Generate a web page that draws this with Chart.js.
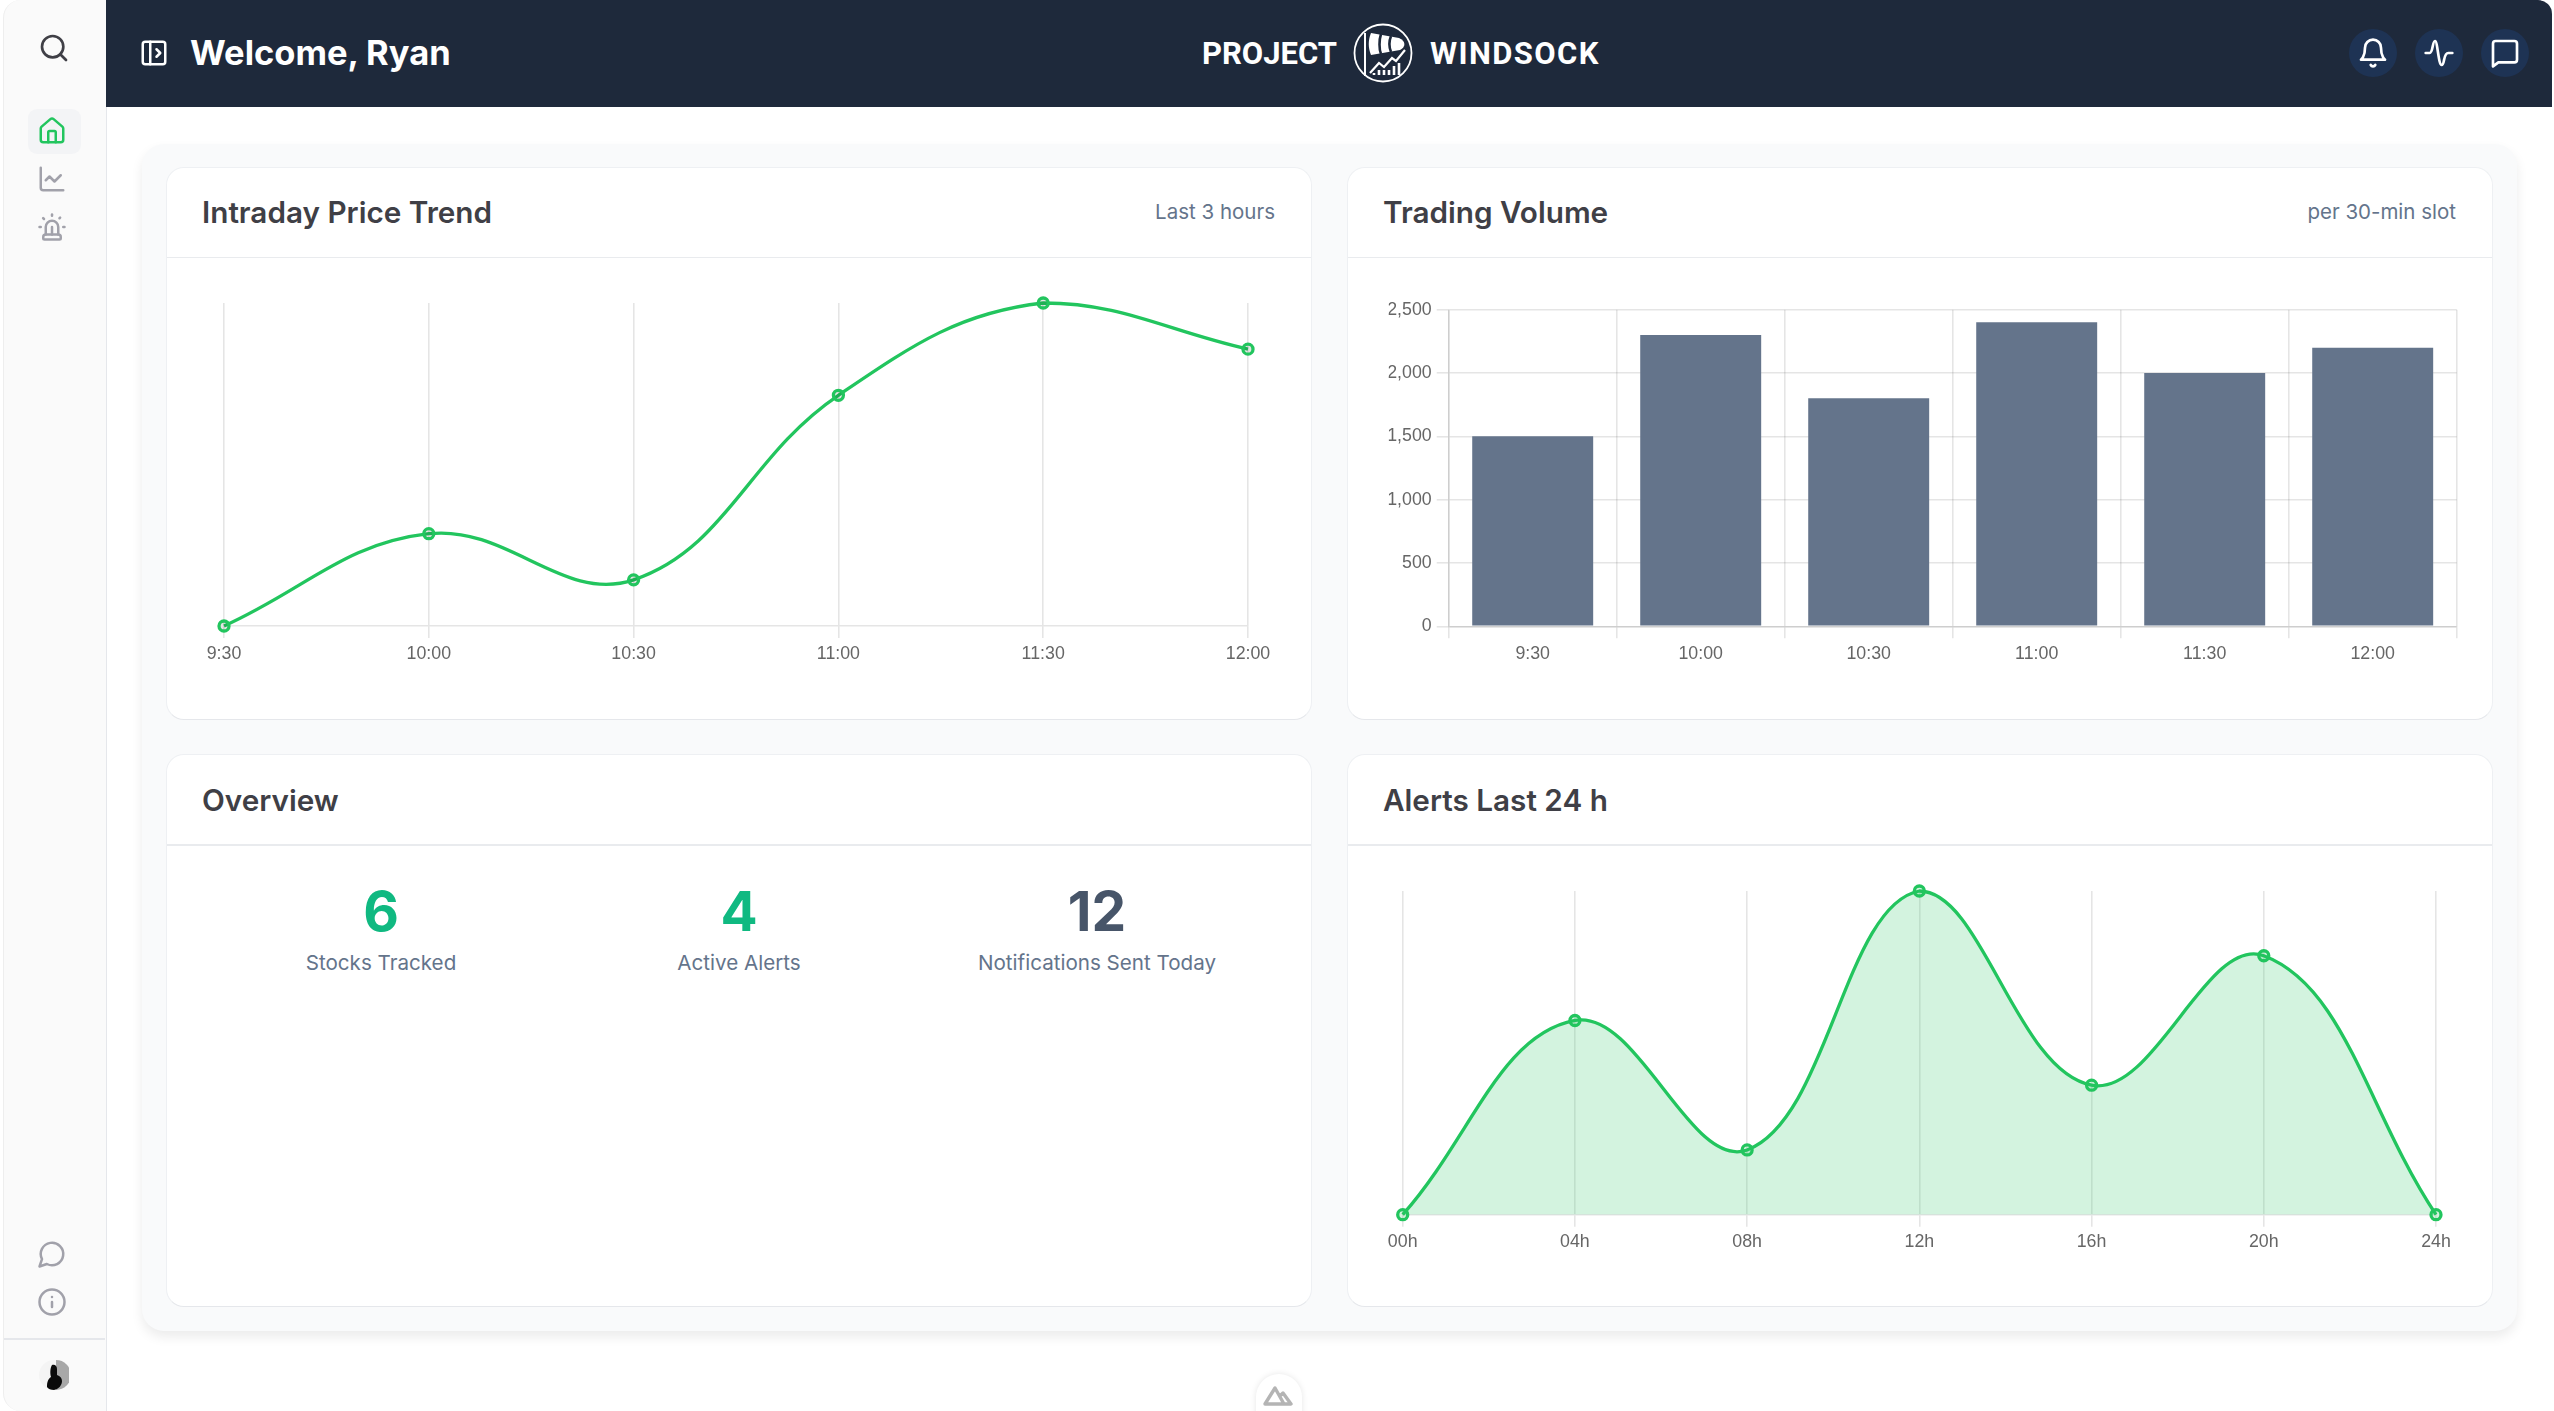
<!DOCTYPE html>
<html>
<head>
<meta charset="utf-8">
<title>Project Windsock</title>
<script src="https://cdn.jsdelivr.net/npm/chart.js@4"></script>
<style>
  html, body { margin: 0; padding: 0; background: #fff; }
  body { width: 2554px; height: 1411px; position: relative; overflow: hidden; font-family: Inter, sans-serif; }
  .abs, .card, .title, .note, canvas, .num, .lbl, svg { position: absolute; }
  #sidebar { left: 3px; top: 0; width: 102px; height: 1411px; background: #fafafa; border-right: 1.5px solid #e5e7eb; border-left: 1.5px solid #eeeeee; border-radius: 18px 0 0 18px; box-sizing: content-box; }
  #header { left: 106px; top: 0; width: 2446px; height: 107px; background: #1e293b; border-top-right-radius: 14px; }
  #panel { left: 142px; top: 144px; width: 2375px; height: 1187px; background: #f9fafb; border-radius: 22px; box-shadow: 0 6px 12px rgba(0,0,0,.08); }
  .card { width: 1146.500px; height: 553px; background: #fff; border: 1.5px solid #eef0f3; border-bottom-color: #e5e7eb; border-radius: 18px; box-sizing: border-box; }
  .rule { position: absolute; left: 0; right: 0; top: 89px; height: 1.5px; background: #e9ebee; }
  .title { font-size: 29.700px; font-weight: 600; color: #3f3f46; line-height: 36px; white-space: nowrap; }
  .note { font-size: 20.500px; color: #64748b; line-height: 26px; white-space: nowrap; text-align: right; }
  .num { font-size: 55px; font-weight: 700; line-height: 60px; width: 200px; text-align: center; }
  .lbl { font-size: 20.600px; color: #64748b; line-height: 26px; width: 320px; text-align: center; white-space: nowrap; }
  .ico { fill: none; stroke-width: 2; stroke-linecap: round; stroke-linejoin: round; }
  .dot { position: absolute; width: 48px; height: 48px; top: 29px; border-radius: 50%; background: #1e3354; }
  .brand { position: absolute; color: #fff; font-family: Roboto, sans-serif; font-weight: 700; font-size: 31px; line-height: 40px; top: 33.500px; white-space: nowrap; }
</style>
</head>
<body>

<div class="abs" id="sidebar"></div>
<div class="abs" style="left:28px;top:109px;width:53px;height:45px;background:#f3f4f6;border-radius:9px"></div>
<svg class="ico" style="left:38px;top:32px" width="32" height="32" viewBox="0 0 24 24" stroke="#3f3f46"><circle cx="11" cy="11" r="8"/><path d="m21 21-4.300-4.300"/></svg>
<svg class="ico" style="left:37px;top:116px" width="30" height="30" viewBox="0 0 24 24" stroke="#22c55e"><path d="M15 21v-8a1 1 0 0 0-1-1h-4a1 1 0 0 0-1 1v8"/><path d="M3 10a2 2 0 0 1 .7-1.500l7-6a2 2 0 0 1 2.600 0l7 6A2 2 0 0 1 21 10v9a2 2 0 0 1-2 2H5a2 2 0 0 1-2-2z"/></svg>
<svg class="ico" style="left:37px;top:164px" width="30" height="30" viewBox="0 0 24 24" stroke="#a1a1aa"><path d="M3 3v16a2 2 0 0 0 2 2h16"/><path d="m19 9-5 5-4-4-3 3"/></svg>
<svg class="ico" style="left:37px;top:211.500px" width="30" height="30" viewBox="0 0 24 24" stroke="#a1a1aa"><path d="M7 18v-6a5 5 0 1 1 10 0v6"/><path d="M5 21a1 1 0 0 0 1 1h12a1 1 0 0 0 1-1v-1a2 2 0 0 0-2-2H7a2 2 0 0 0-2 2z"/><path d="M21 12h1"/><path d="M18.500 4.500 18 5"/><path d="M2 12h1"/><path d="M12 2v1"/><path d="m4.900 4.900.7.7"/><path d="M12 12v6"/></svg>
<svg class="ico" style="left:37px;top:1239px" width="30" height="30" viewBox="0 0 24 24" stroke="#a1a1aa"><path d="M7.900 20A9 9 0 1 0 4 16.100L2 22Z"/></svg>
<svg class="ico" style="left:37px;top:1287px" width="30" height="30" viewBox="0 0 24 24" stroke="#a1a1aa"><circle cx="12" cy="12" r="10"/><path d="M12 16v-4"/><path d="M12 8h.01"/></svg>
<div class="abs" style="left:4px;top:1338px;width:101px;height:1.5px;background:#e5e7eb"></div>
<svg style="left:39px;top:1360px" width="30" height="30" viewBox="0 0 30 30"><circle cx="15" cy="15" r="15" fill="#f4f4f4"/><path d="M17 0a15 15 0 0 1 0 30z" fill="#a8a8a8"/><path d="M13 5c3-1 5 1 5 4v6c3 1 5 3 5 6 0 4-3 8-8 9-3 0-6-1-7-3 0-5 1-8 4-10-1-3-1-9 1-12z" fill="#0a0a0a"/></svg>

<div class="abs" id="header">
  <svg class="ico" style="left:33px;top:38px" width="30" height="30" viewBox="0 0 24 24" stroke="#fff"><rect x="3" y="3" width="18" height="18" rx="2"/><path d="M9 3v18"/><path d="m14 9 3 3-3 3"/></svg>
  <div style="position:absolute;left:84px;top:31px;color:#fff;font-size:34.500px;font-weight:700;line-height:44px;white-space:nowrap">Welcome, Ryan</div>
  <div class="brand" style="left:1096px">PROJECT</div>
  <svg style="left:1247px;top:23px" width="60" height="60" viewBox="0 0 60 60" fill="none" stroke="#fff" stroke-width="1.800"><circle cx="30" cy="30" r="28.500"/><path d="M12 10v43" stroke-width="2"/><path d="M18 10l28 5c7 3 7 9 1 12l-29 5c-3-7-3-15 0-22z" fill="#fff" stroke="none"/><path d="M28 11c-2 6-2 15 0 20M38 13c-2 5-2 11 0 16" stroke="#1e293b" stroke-width="2.600"/><path d="M17 50l9-10 5 4 8-9 4 3 9-11" stroke-width="2.200"/><path d="M21 52v-2M26 52v-5M31 52v-5M36 52v-5M41 52v-9M46 52v-12" stroke-width="2.600"/></svg>
  <div class="brand" style="left:1324px;letter-spacing:1.400px">WINDSOCK</div>
  <div class="dot" style="left:2243px"></div>
  <div class="dot" style="left:2309px"></div>
  <div class="dot" style="left:2375px"></div>
  <svg class="ico" style="left:2251px;top:37px" width="32" height="32" viewBox="0 0 24 24" stroke="#fff"><path d="M6 8a6 6 0 0 1 12 0c0 7 3 9 3 9H3s3-2 3-9"/><path d="M10.300 21a1.940 1.940 0 0 0 3.400 0"/></svg>
  <svg class="ico" style="left:2317px;top:37px" width="32" height="32" viewBox="0 0 24 24" stroke="#fff"><path d="M2 12h3c2.500 0 2-9 4-9s2.500 18 5 18 1-9 5-9h3"/></svg>
  <svg class="ico" style="left:2383px;top:37px" width="32" height="32" viewBox="0 0 24 24" stroke="#fff"><path d="M21 17a2 2 0 0 1-2 2H7l-4 3V5a2 2 0 0 1 2-2h14a2 2 0 0 1 2 2z"/></svg>
</div>

<div class="abs" id="panel"></div>

<div class="card" style="left:165.500px;top:166.500px"><div class="rule"></div></div>
<div class="card" style="left:1346.500px;top:166.500px"><div class="rule"></div></div>
<div class="card" style="left:165.500px;top:754px"><div class="rule"></div></div>
<div class="card" style="left:1346.500px;top:754px"><div class="rule"></div></div>

<div class="title" style="left:202px;top:194px">Intraday Price Trend</div>
<div class="note" style="right:1279px;top:199px">Last 3 hours</div>
<div class="title" style="left:1383px;top:194px">Trading Volume</div>
<div class="note" style="right:98px;top:199px">per 30-min slot</div>
<div class="title" style="left:202px;top:782px">Overview</div>
<div class="title" style="left:1383px;top:782px">Alerts Last 24 h</div>

<div class="num" style="left:281px;top:881px;color:#10b981">6</div>
<div class="lbl" style="left:221px;top:950px">Stocks Tracked</div>
<div class="num" style="left:639px;top:881px;color:#10b981">4</div>
<div class="lbl" style="left:579px;top:950px">Active Alerts</div>
<div class="num" style="left:997px;top:881px;color:#475569">12</div>
<div class="lbl" style="left:937px;top:950px">Notifications Sent Today</div>

<canvas id="priceChart" style="left:167px;top:260px" width="1143" height="458"></canvas>
<canvas id="volumeChart" style="left:1348px;top:260px" width="1143" height="458"></canvas>
<canvas id="alertsChart" style="left:1348px;top:848px" width="1143" height="458"></canvas>

<div class="abs" style="left:1256px;top:1374px;width:46px;height:60px;background:#fff;border-radius:23px;box-shadow:0 0 6px rgba(0,0,0,.1)"></div>
<svg style="left:1263px;top:1385px" width="32" height="22" viewBox="0 0 32 22" fill="none" stroke="#b4b4b4" stroke-width="3.400" stroke-linejoin="round"><path d="M2 19L12 3l9 16zM17 11l3-3 8 11h-9"/></svg>

<script>
// Values
const timeLabels = ['9:30', '10:00', '10:30', '11:00', '11:30', '12:00'];
const priceValues = [100, 102, 101, 105, 107, 106];
const volumeValues = [1500, 2300, 1800, 2400, 2000, 2200];
const alertHours = ['00h', '04h', '08h', '12h', '16h', '20h', '24h'];
const alertValues = [0, 6, 2, 10, 4, 8, 0];

const GREEN = '#22c55e';
const GRID = 'rgba(0,0,0,0.1)';
const tickFont = { family: '"Liberation Sans", Arial, sans-serif', size: 17.8 };

Chart.defaults.animation = false;
Chart.defaults.responsive = false;
Chart.defaults.devicePixelRatio = 1;
Chart.defaults.color = '#666';

const xAxis = () => ({
  grid: { color: GRID, lineWidth: 1.6, tickLength: 12 },
  border: { color: GRID, width: 1.6 },
  ticks: { font: tickFont, padding: 5, maxRotation: 0, autoSkip: false },
  afterFit: scale => { scale.height = 38; },
});

new Chart(document.getElementById('priceChart'), {
  type: 'line',
  data: {
    labels: timeLabels,
    datasets: [{
      data: priceValues,
      borderColor: GREEN,
      borderWidth: 3.3,
      tension: 0.4,
      clip: false,
      pointRadius: 5,
      pointBorderWidth: 3.3,
    }],
  },
  options: {
    layout: { padding: { left: 57, right: 62, top: 43, bottom: 54 } },
    plugins: { legend: { display: false }, tooltip: { enabled: false } },
    scales: {
      x: xAxis(),
      y: { display: false, min: 100, max: 107 },
    },
  },
});

new Chart(document.getElementById('volumeChart'), {
  type: 'bar',
  data: {
    labels: timeLabels,
    datasets: [{ data: volumeValues, backgroundColor: '#64748b' }],
  },
  options: {
    layout: { padding: { left: 40.7, right: 34.3, top: 49.7, bottom: 53.7 } },
    plugins: { legend: { display: false }, tooltip: { enabled: false } },
    scales: {
      x: xAxis(),
      y: {
        min: 0,
        max: 2500,
        grid: { color: GRID, lineWidth: 1.6, tickLength: 12 },
        border: { color: GRID, width: 1.6 },
        ticks: { font: tickFont, padding: 5, stepSize: 500 },
        afterFit: scale => { scale.width = 60; },
      },
    },
  },
});

new Chart(document.getElementById('alertsChart'), {
  type: 'line',
  data: {
    labels: alertHours,
    datasets: [{
      data: alertValues,
      borderColor: GREEN,
      backgroundColor: 'rgba(34,197,94,0.2)',
      fill: true,
      borderWidth: 3.3,
      tension: 0.4,
      clip: false,
      pointRadius: 5,
      pointBorderWidth: 3.3,
    }],
  },
  options: {
    layout: { padding: { left: 54.7, right: 55, top: 43, bottom: 53.3 } },
    plugins: { legend: { display: false }, tooltip: { enabled: false } },
    scales: {
      x: xAxis(),
      y: { display: false, min: 0, max: 10 },
    },
  },
});
</script>
</body>
</html>
